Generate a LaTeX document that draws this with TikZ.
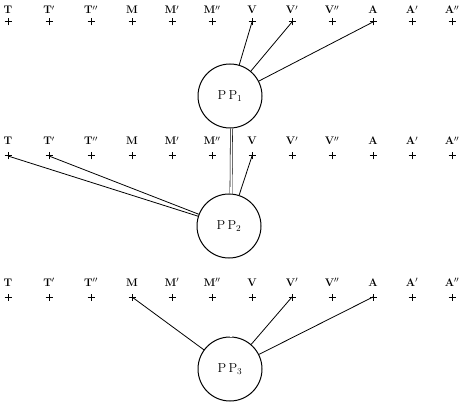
\documentclass[tikz,border=0pt]{standalone}
\begin{document}
\begin{tikzpicture}[x=1pt,y=-1pt,
  lbl/.style={font=\fontsize{11}{13}\selectfont\bfseries, inner sep=0pt, anchor=base},
  ppnode/.style={circle, draw, line width=1pt, minimum size=64pt, inner sep=0pt, font=\fontsize{13}{15}\selectfont},
  conn/.style={line width=0.8pt},
  dbl/.style={double, double distance=1.6pt, line width=0.55pt}]
\useasboundingbox (0,0) rectangle (469,409);
\def\crosssize{3.5}
% columns
\foreach \nm/\xx/\tx in {T/8/T, Ta/49/T$'$, Tb/91/T$''$, M/132/M, Ma/172/M$'$, Mb/212/M$''$, V/252/V, Va/292/V$'$, Vb/332/V$''$, A/373/A, Aa/412/A$'$, Ab/452/A$''$}{
  \foreach \r/\ly/\py in {1/14/22, 2/145/156, 3/286/297}{
    \node[lbl] (l\nm\r) at (\xx,\ly) {\tx};
    \coordinate (p\nm\r) at (\xx,\py);
    \draw[line width=1pt] ([xshift=-\crosssize pt]p\nm\r) -- ([xshift=\crosssize pt]p\nm\r);
    \draw[line width=1pt] ([yshift=-\crosssize pt]p\nm\r) -- ([yshift=\crosssize pt]p\nm\r);
  }
}
\node[ppnode] (pp1) at (230,96) {P\,P$_1$};
\node[ppnode] (pp2) at (229,226) {P\,P$_2$};
\node[ppnode] (pp3) at (230,369) {P\,P$_3$};
\draw[dbl] ([xshift=1.5pt]pp1.south) -- ([xshift=2pt]pp2.north);
\draw[dbl] ([xshift=2pt]pp2.south) -- ([xshift=1pt]pp3.north);
% PP1
\draw[conn] (pV1) -- (pp1);
\draw[conn] (pVa1) -- (pp1);
\draw[conn] (pA1) -- (pp1);
% PP2
\draw[conn] (pT2) -- (pp2);
\draw[conn] (pTa2) -- (pp2);
\draw[conn] (pV2) -- (pp2);
% PP3
\draw[conn] (pM3) -- (pp3);
\draw[conn] (pVa3) -- (pp3);
\draw[conn] (pA3) -- (pp3);
\end{tikzpicture}
\end{document}
